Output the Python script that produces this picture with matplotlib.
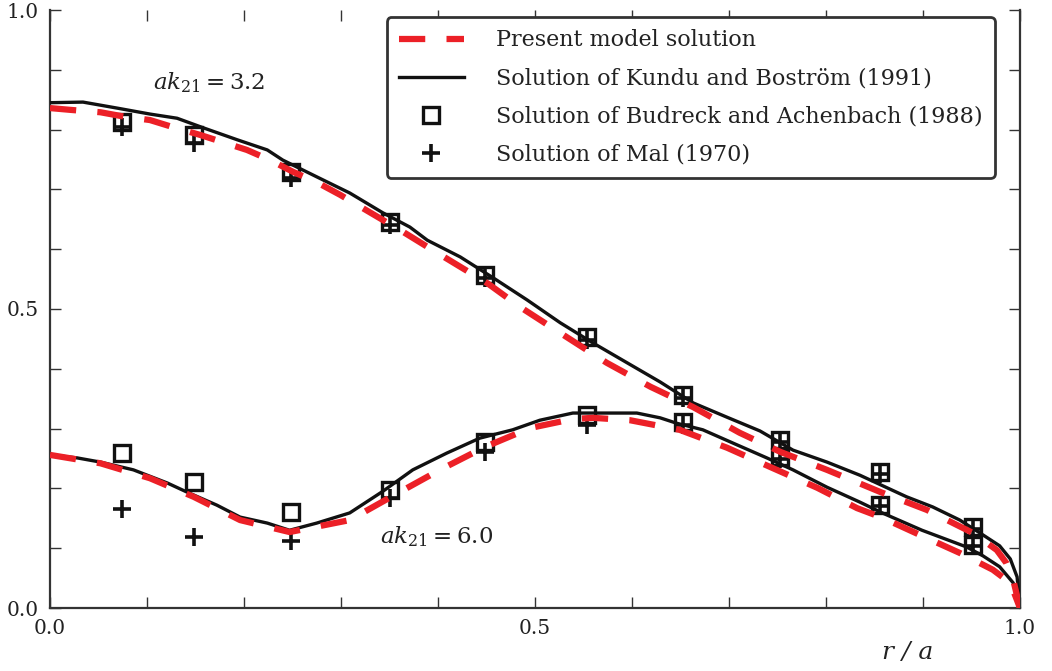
import matplotlib
matplotlib.use("Agg")
import matplotlib.pyplot as plt
from matplotlib.ticker import MultipleLocator, FixedLocator

# -----------------------------------------
# data
# -----------------------------------------
# ak21 = 3.2
kundu_x_32 = [0.0, 0.034, 0.069, 0.103, 0.131, 0.158, 0.193, 0.224, 0.240, 0.275,
              0.309, 0.343, 0.371, 0.389, 0.423, 0.457, 0.492, 0.526, 0.560, 0.595,
              0.629, 0.663, 0.698, 0.732, 0.766, 0.801, 0.835, 0.883, 0.910, 0.938,
              0.962, 0.979, 0.990, 0.997, 1.0]
kundu_y_32 = [0.845, 0.846, 0.836, 0.826, 0.819, 0.803, 0.783, 0.766, 0.749, 0.721,
              0.694, 0.661, 0.637, 0.615, 0.587, 0.552, 0.515, 0.477, 0.443, 0.410,
              0.378, 0.343, 0.319, 0.296, 0.264, 0.244, 0.222, 0.186, 0.169, 0.147,
              0.122, 0.104, 0.082, 0.052, 0.0]

model_x_32 = [0.0, 0.021, 0.052, 0.079, 0.103, 0.127, 0.155, 0.178, 0.203, 0.227,
              0.251, 0.275, 0.299, 0.320, 0.343, 0.364, 0.389, 0.451, 0.485, 0.526,
              0.574, 0.619, 0.663, 0.711, 0.753, 0.801, 0.856, 0.904, 0.952, 0.976,
              0.986, 0.993, 1.0]
model_y_32 = [0.836, 0.833, 0.829, 0.821, 0.816, 0.804, 0.791, 0.779, 0.766, 0.749,
              0.729, 0.712, 0.691, 0.671, 0.649, 0.629, 0.604, 0.543, 0.503, 0.460,
              0.410, 0.370, 0.336, 0.293, 0.261, 0.231, 0.194, 0.164, 0.125, 0.097,
              0.075, 0.047, 0.0]

# ak21 = 6.0
kundu_x_60 = [0.0, 0.028, 0.052, 0.086, 0.121, 0.141, 0.172, 0.196, 0.224, 0.247,
              0.275, 0.309, 0.343, 0.374, 0.409, 0.443, 0.477, 0.505, 0.539, 0.560,
              0.605, 0.629, 0.646, 0.673, 0.708, 0.739, 0.766, 0.801, 0.835, 0.858,
              0.899, 0.945, 0.962, 0.979, 0.993, 1.0]
kundu_y_60 = [0.256, 0.251, 0.244, 0.231, 0.209, 0.194, 0.172, 0.152, 0.142, 0.130,
              0.142, 0.159, 0.195, 0.231, 0.259, 0.284, 0.298, 0.314, 0.326, 0.326,
              0.326, 0.318, 0.309, 0.298, 0.273, 0.251, 0.231, 0.202, 0.177, 0.159,
              0.130, 0.102, 0.087, 0.069, 0.042, 0.0]

model_x_60 = [0.0, 0.052, 0.103, 0.148, 0.196, 0.247, 0.309, 0.354, 0.402, 0.448,
              0.495, 0.539, 0.560, 0.598, 0.649, 0.698, 0.745, 0.791, 0.832, 0.858,
              0.893, 0.938, 0.972, 0.990, 1.0]
model_y_60 = [0.256, 0.242, 0.217, 0.186, 0.147, 0.127, 0.147, 0.188, 0.231, 0.269,
              0.301, 0.316, 0.318, 0.314, 0.298, 0.268, 0.234, 0.201, 0.167, 0.151,
              0.125, 0.092, 0.064, 0.042, 0.0]

# discrete reference solutions
point_x = [0.074, 0.148, 0.248, 0.350, 0.448, 0.554, 0.653, 0.753, 0.856, 0.952]
budreck_32 = [0.813, 0.791, 0.729, 0.645, 0.557, 0.453, 0.356, 0.281, 0.227, 0.135]
budreck_60 = [0.259, 0.211, 0.161, 0.197, 0.278, 0.323, 0.311, 0.253, 0.172, 0.105]
mal_32 = [0.804, 0.778, 0.719, 0.640, 0.552, 0.448, 0.352, 0.278, 0.224, 0.132]
mal_60 = [0.166, 0.119, 0.112, 0.184, 0.261, 0.306, 0.306, 0.250, 0.170, 0.103]

# -----------------------------------------
# style
# -----------------------------------------
plt.rcParams["font.family"] = ["DejaVu Serif"]
plt.rcParams["mathtext.fontset"] = "dejavuserif"

red = "#ec2027"
ink = "#111111"
frame = "#333333"

fig = plt.figure(figsize=(10.52, 6.71), dpi=100)
ax = fig.add_axes([50 / 1052, 1 - 608 / 671, 970 / 1052, 598 / 671])

# -----------------------------------------
# plot
# -----------------------------------------
ax.plot(model_x_32, model_y_32, color=red, lw=4.5, dashes=(4.2, 3.4),
        label="Present model solution", zorder=4)
ax.plot(model_x_60, model_y_60, color=red, lw=4.5, dashes=(4.2, 3.4), zorder=4)

ax.plot(kundu_x_32, kundu_y_32, color=ink, lw=2.4,
        label="Solution of Kundu and Boström (1991)", zorder=3)
ax.plot(kundu_x_60, kundu_y_60, color=ink, lw=2.4, zorder=3)

ax.plot(point_x, budreck_32, ls="none", marker="s", ms=12, mfc="none",
        mec=ink, mew=2.4, label="Solution of Budreck and Achenbach (1988)", zorder=2)
ax.plot(point_x, budreck_60, ls="none", marker="s", ms=12, mfc="none",
        mec=ink, mew=2.4, zorder=2)

ax.plot(point_x, mal_32, ls="none", marker="+", ms=13, mec=ink, mew=2.6,
        label="Solution of Mal (1970)", zorder=2)
ax.plot(point_x, mal_60, ls="none", marker="+", ms=13, mec=ink, mew=2.6, zorder=2)

ax.text(0.106, 0.878, r"$ak_{21} = 3.2$", fontsize=16.5, color="#222222",
        ha="left", va="center")
ax.text(0.340, 0.119, r"$ak_{21} = 6.0$", fontsize=16.5, color="#222222",
        ha="left", va="center")

# -----------------------------------------
# axes
# -----------------------------------------
ax.set_xlim(0, 1)
ax.set_ylim(0, 1)
ax.xaxis.set_major_locator(FixedLocator([0.0, 0.5, 1.0]))
ax.yaxis.set_major_locator(FixedLocator([0.0, 0.5, 1.0]))
ax.xaxis.set_minor_locator(MultipleLocator(0.1))
ax.yaxis.set_minor_locator(MultipleLocator(0.1))
ax.set_xticklabels(["0.0", "0.5", "1.0"])
ax.set_yticklabels(["0.0", "0.5", "1.0"])

ax.spines["top"].set_visible(False)
for side in ["left", "right", "bottom"]:
    ax.spines[side].set_color(frame)
    ax.spines[side].set_linewidth(1.6)

ax.tick_params(which="both", direction="in", top=True, right=True,
               length=8, width=1.0, color=frame)
ax.tick_params(which="major", labelsize=14.5, labelcolor="#222222", pad=8)

ax.set_xlabel("r / a", fontsize=18, style="italic", color="#222222")
ax.xaxis.set_label_coords(0.884, -0.055)

leg = ax.legend(loc="upper right", bbox_to_anchor=(0.974, 0.988),
                borderaxespad=0, fontsize=16, handlelength=2.9,
                handletextpad=1.45, labelspacing=0.72, borderpad=0.55,
                fancybox=True, framealpha=1)
leg.get_frame().set_edgecolor(frame)
leg.get_frame().set_linewidth(2.0)
for text in leg.get_texts():
    text.set_color("#222222")

fig.savefig("out.png", dpi=100)
